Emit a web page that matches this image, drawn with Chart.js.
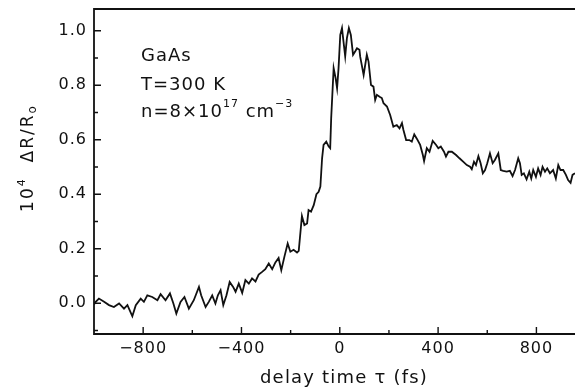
<!DOCTYPE html>
<html>
<head>
<meta charset="utf-8">
<script src="https://cdn.jsdelivr.net/npm/chart.js@4/dist/chart.umd.min.js"></script>
<style>
html,body{margin:0;padding:0;background:#fff;}
#wrap{width:575px;height:388px;position:relative;}
</style>
</head>
<body>
<div id="wrap"><canvas id="c" width="575" height="388"></canvas></div>
<script>
// delay time tau (fs)
const delays = [-1000,-993,-980,-959,-939,-919,-898,-878,-864,-844,-830,-810,-797,-783,-763,-742,-729,-709,-691,-677,-665,-648,-632,-614,-594,-573,-564,-546,-533,-519,-506,-496,-485,-474,-461,-448,-434,-424,-411,-397,-384,-370,-357,-343,-330,-316,-303,-289,-275,-262,-249,-238,-225,-212,-201,-188,-174,-167,-154,-144,-133,-127,-117,-106,-95,-86,-79,-72,-66,-55,-45,-39,-35,-29,-25,-17,-11,-5,2,9,15,22,29,37,45,54,63,70,80,83,97,110,117,127,137,144,151,162,171,178,192,205,218,232,243,253,259,270,283,293,303,314,327,338,343,354,365,378,392,401,411,424,432,442,456,473,487,503,517,530,537,546,554,564,573,582,591,600,611,622,631,645,655,665,679,692,703,713,726,733,740,749,760,771,779,787,798,807,817,825,835,844,855,868,879,889,898,909,920,929,939,947,957];
// 10^4 dR/R0
const signal = [-0.005,0.005,0.017,0.005,-0.007,-0.014,-0.001,-0.020,-0.007,-0.048,-0.007,0.017,0.005,0.029,0.023,0.011,0.033,0.011,0.036,-0.001,-0.038,0.005,0.023,-0.020,0.011,0.060,0.029,-0.014,0.005,0.029,-0.001,0.029,0.048,-0.007,0.029,0.078,0.060,0.042,0.072,0.038,0.085,0.072,0.091,0.080,0.105,0.115,0.125,0.146,0.125,0.150,0.166,0.121,0.172,0.219,0.189,0.196,0.186,0.192,0.320,0.287,0.293,0.342,0.336,0.360,0.400,0.409,0.428,0.532,0.581,0.593,0.575,0.569,0.679,0.789,0.863,0.826,0.789,0.863,0.985,1.010,0.961,0.906,0.973,1.010,0.985,0.912,0.925,0.936,0.930,0.905,0.838,0.912,0.887,0.801,0.795,0.746,0.765,0.758,0.753,0.734,0.722,0.691,0.648,0.654,0.642,0.661,0.636,0.599,0.599,0.593,0.620,0.603,0.581,0.544,0.522,0.569,0.556,0.596,0.581,0.569,0.575,0.556,0.538,0.556,0.556,0.544,0.532,0.519,0.507,0.501,0.492,0.519,0.507,0.540,0.514,0.477,0.489,0.514,0.550,0.514,0.526,0.550,0.489,0.486,0.483,0.486,0.467,0.489,0.532,0.514,0.471,0.477,0.455,0.483,0.458,0.489,0.464,0.495,0.471,0.501,0.483,0.495,0.477,0.489,0.458,0.507,0.489,0.489,0.471,0.452,0.442,0.471,0.477];

const xTickValues = [-800,-400,0,400,800];
const xTickLabels = ["\u2212800","\u2212400","0","400","800"];
const xMinorTicks = [-600,-200,200,600];
const yTickValues = [0,0.2,0.4,0.6,0.8,1.0];
const yTickLabels = ["0.0","0.2","0.4","0.6","0.8","1.0"];
const yMinorTicks = [-0.1,0.1,0.3,0.5,0.7,0.9];
const xRange = [-1000,957];
const yRange = [-0.113,1.08];

const points = delays.map((d,i)=>({x:d,y:signal[i]}));
const FONT = "'DejaVu Sans', sans-serif";
const INK = '#111';

function richText(ctx, parts, x, y, align){
  let total = 0;
  parts.forEach(p=>{ctx.font = p.size+'px '+FONT; p.w = ctx.measureText(p.t).width; total += p.w;});
  let cx = align==='center' ? x - total/2 : x;
  ctx.textAlign='left';
  parts.forEach(p=>{ctx.font = p.size+'px '+FONT; ctx.fillText(p.t, cx, y + (p.dy||0)); cx += p.w;});
}

const decor = {
  id:'decor',
  beforeDraw(chart){
    chart.ctx.letterSpacing = '1px';
  },
  afterDraw(chart){
    const ctx = chart.ctx, a = chart.chartArea, xs = chart.scales.x, ys = chart.scales.y;
    ctx.save();
    ctx.strokeStyle = INK; ctx.lineWidth = 1.8; ctx.lineCap='square';
    ctx.beginPath();
    ctx.moveTo(a.left, a.top); ctx.lineTo(a.left, a.bottom); ctx.lineTo(a.right, a.bottom);
    ctx.moveTo(a.left, a.top); ctx.lineTo(a.right, a.top);
    ctx.stroke();
    ctx.lineWidth = 1.4; ctx.lineCap='butt';
    ctx.beginPath();
    yTickValues.forEach(v=>{const p=ys.getPixelForValue(v); ctx.moveTo(a.left,p); ctx.lineTo(a.left+7,p);});
    yMinorTicks.forEach(v=>{const p=ys.getPixelForValue(v); ctx.moveTo(a.left,p); ctx.lineTo(a.left+4,p);});
    xTickValues.forEach(v=>{const p=xs.getPixelForValue(v); ctx.moveTo(p,a.bottom); ctx.lineTo(p,a.bottom-7);});
    xMinorTicks.forEach(v=>{const p=xs.getPixelForValue(v); ctx.moveTo(p,a.bottom); ctx.lineTo(p,a.bottom-4);});
    ctx.stroke();

    ctx.fillStyle = INK; ctx.textBaseline='middle';
    ctx.letterSpacing='1.2px';
    richText(ctx,[{t:'delay time \u03c4 (fs)',size:18}], 344, 378, 'center');
    ctx.save();
    ctx.translate(29, 158); ctx.rotate(-Math.PI/2);
    ctx.letterSpacing='2px';
    richText(ctx,[{t:'10',size:17},{t:'4',size:11,dy:-7},{t:'  \u0394R/R',size:17},{t:'o',size:12,dy:4}],0,0,'center');
    ctx.restore();
    ctx.letterSpacing='1px';
    richText(ctx,[{t:'GaAs',size:18}],141,56,'left');
    richText(ctx,[{t:'T=300 K',size:18}],141,85,'left');
    richText(ctx,[{t:'n=8\u00d710',size:18},{t:'17',size:11,dy:-8},{t:' cm',size:18},{t:'\u22123',size:11,dy:-8}],141,112,'left');
    ctx.restore();
  }
};

new Chart(document.getElementById('c'),{
  type:'line',
  data:{datasets:[{data:points,borderColor:INK,borderWidth:1.8,pointRadius:0,tension:0,fill:false}]},
  options:{
    responsive:false,animation:false,
    layout:{padding:{top:9,right:0,left:0,bottom:0}},
    plugins:{legend:{display:false},tooltip:{enabled:false}},
    scales:{
      x:{type:'linear',min:xRange[0],max:xRange[1],
        grid:{display:false,drawTicks:false},border:{display:false},
        afterBuildTicks(s){s.ticks = xTickValues.map(v=>({value:v}));},
        afterFit(s){s.height = 54; s.paddingLeft = 0; s.paddingRight = 0;},
        ticks:{color:INK,font:{family:FONT,size:16},padding:5,maxRotation:0,autoSkip:false,
          callback(v){const i=xTickValues.indexOf(v); return i>=0?xTickLabels[i]:'';}}
      },
      y:{type:'linear',min:yRange[0],max:yRange[1],
        grid:{display:false,drawTicks:false},border:{display:false},
        afterBuildTicks(s){s.ticks = yTickValues.map(v=>({value:v}));},
        afterFit(s){s.width = 94; s.paddingTop = 0; s.paddingBottom = 0;},
        ticks:{color:INK,font:{family:FONT,size:16},padding:7,autoSkip:false,
          callback(v){const i=yTickValues.findIndex(t=>Math.abs(t-v)<1e-9); return i>=0?yTickLabels[i]:'';}}
      }
    }
  },
  plugins:[decor]
});
</script>
</body>
</html>
